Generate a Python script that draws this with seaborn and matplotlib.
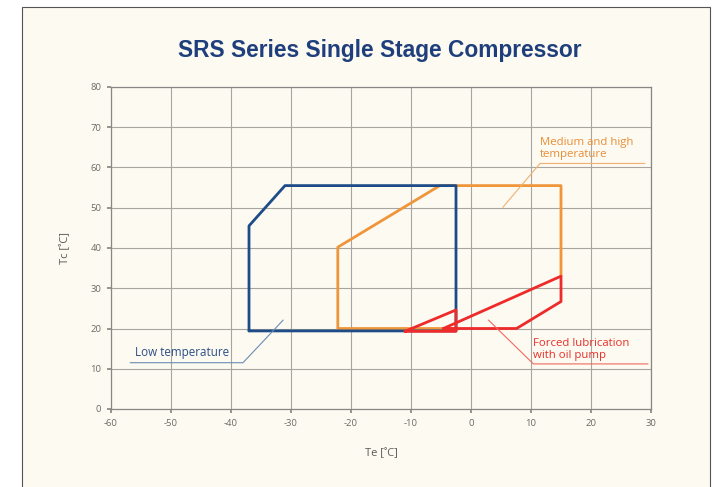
import pandas as pd
import matplotlib.pyplot as plt
from matplotlib.patches import Rectangle
import seaborn as sns

# operating envelopes, Te / Tc in deg C
low_te = [-37, -37, -31, -2.5, -2.5, -37]
low_tc = [19.4, 45.5, 55.5, 55.5, 19.4, 19.4]

med_te = [-2.5, -22.2, -22.2, -5.2, 15, 15]
med_tc = [20, 20, 40.2, 55.5, 55.5, 33]

oil_a_te = [-11, -2.5, -2.5, -11]
oil_a_tc = [19.3, 24.6, 19.3, 19.3]
oil_b_te = [-4.6, 15, 15, 7.6, -4.6]
oil_b_tc = [20, 33, 26.7, 20, 20]

x_ticks = list(range(-60, 31, 10))
y_ticks = list(range(0, 81, 10))

cream = "#fcfaf1"
sns.set_theme(style="whitegrid", rc={"axes.facecolor": cream, "grid.color": "#a8a4a0",
                                     "axes.edgecolor": "#8a8683", "grid.linewidth": 0.8})
plt.rcParams['font.family'] = ['Open Sans', 'DejaVu Sans']
plt.rcParams['axes.unicode_minus'] = False

fig = plt.figure(figsize=(7.16, 4.87), dpi=100)
fig.patch.set_facecolor("white")
fig.patches.append(Rectangle((22/716, -0.01), (710-22)/716, 1.01-7/487, transform=fig.transFigure,
                             facecolor=cream, edgecolor="#555555", linewidth=0.8, zorder=-5))
ax = fig.add_axes([111/716, 1-409/487, (651-111)/716, (409-87)/487])
ax.set_zorder(2)

def outline(te, tc, color):
    df = pd.DataFrame({"Te": te, "Tc": tc})
    sns.lineplot(data=df, x="Te", y="Tc", sort=False, estimator=None, color=color,
                 linewidth=2.0, ax=ax)

outline(med_te, med_tc, "#f0953a")
outline(low_te, low_tc, "#1d4c88")
outline(oil_a_te, oil_a_tc, "#ee2a2a")
outline(oil_b_te, oil_b_tc, "#ee2a2a")

# leader lines + labels
ax.plot([-56.8, -38, -31.3], [11.5, 11.5, 22.1], color="#6b8db5", lw=0.8)
ax.text(-56, 12.3, "Low temperature", color="#2c4f86", fontsize=8.4, va="bottom")
ax.plot([29, 11.5, 5.3], [61, 61, 50.1], color="#f3b070", lw=0.8)
ax.text(11.5, 61.8, "Medium and high\ntemperature", color="#e88d36", fontsize=8.2,
        va="bottom", linespacing=1.15)
ax.plot([29.5, 10.4, 2.9], [11.2, 11.2, 22.1], color="#f06a60", lw=0.8)
ax.text(10.4, 12.0, "Forced lubrication\nwith oil pump", color="#e8302a", fontsize=8.2,
        va="bottom", linespacing=1.15)

ax.set_xlim(-60, 30)
ax.set_ylim(0, 80)
ax.set_xticks(x_ticks)
ax.set_yticks(y_ticks)
ax.tick_params(labelsize=6.8, labelcolor="#6e6a67", length=3, color="#8a8683",
               left=True, bottom=True, pad=4)
ax.set_xlabel("Te [˚C]", fontsize=8, color="#5d5955", labelpad=15)
ax.set_ylabel("Tc [˚C]", fontsize=8, color="#5d5955", labelpad=14)
for s in ax.spines.values():
    s.set_linewidth(0.9)

fig.text(380/716, 1-50/487, "SRS Series Single Stage Compressor", ha="center", va="center",
         fontsize=16.4, fontweight="bold", color="#1f3f7c", family="Liberation Sans")

fig.savefig("out.png", dpi=100)
